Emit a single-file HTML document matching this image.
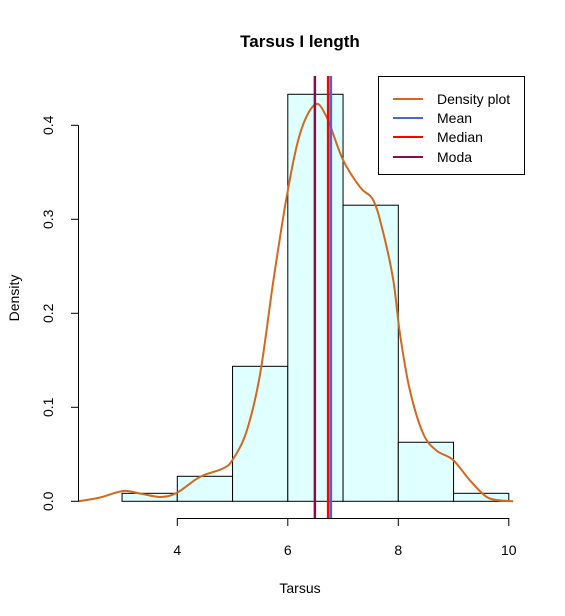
<!DOCTYPE html>
<html><head><meta charset="utf-8"><style>
body{margin:0;background:#fff}
svg{display:block;font-family:"Liberation Sans",Arial,sans-serif}
</style></head><body>
<svg id="c" width="565" height="616" xmlns="http://www.w3.org/2000/svg">
<rect width="565" height="616" fill="#fff"/>
<text x="300" y="47" font-size="17" font-weight="bold" text-anchor="middle">Tarsus I length</text>
<text x="300" y="593" font-size="14" text-anchor="middle">Tarsus</text>
<text transform="translate(19,298) rotate(-90)" font-size="14" text-anchor="middle">Density</text>
<g id="bars"></g><g id="dens"></g><g id="vl"></g><g id="axes"></g>
<g>
<rect x="378.5" y="76.5" width="146" height="98" fill="#fff" stroke="#000"/>
<line x1="393" x2="423" y1="99" y2="99" stroke="#D2691E" stroke-width="2"/>
<text x="437" y="104" font-size="14">Density plot</text>
<line x1="393" x2="423" y1="118" y2="118" stroke="#4169E1" stroke-width="2"/>
<text x="437" y="123" font-size="14">Mean</text>
<line x1="393" x2="423" y1="137" y2="137" stroke="#FF0000" stroke-width="2"/>
<text x="437" y="142" font-size="14">Median</text>
<line x1="393" x2="423" y1="157" y2="157" stroke="#8B0A50" stroke-width="2"/>
<text x="437" y="162" font-size="14">Moda</text>
</g>
</svg>
<script>
const binEdges=[3,4,5,6,7,8,9,10];
const binDensity=[0.0085,0.0266,0.1436,0.433,0.315,0.0628,0.0085];
const densX=[2.2,2.6,3.02,3.35,3.69,3.99,4.41,4.83,5.01,5.26,5.5,5.74,5.98,6.22,6.49,6.7,7.0,7.31,7.55,7.73,7.91,8.03,8.21,8.45,8.69,8.99,9.3,9.6,9.85,10.08];
const densY=[0,0.004,0.011,0.008,0.0046,0.0089,0.026,0.035,0.045,0.0755,0.136,0.235,0.324,0.391,0.422,0.409,0.363,0.334,0.32,0.285,0.235,0.178,0.118,0.072,0.054,0.044,0.022,0.0046,0.001,0];
const statNames=["moda","median","mean"];
const statValues=[6.49,6.73,6.78];
const statColors=["#8B0A50","#FF0000","#4169E1"];
const xTicks=[4,6,8,10];
const yTicks=[0,0.1,0.2,0.3,0.4];
const yTickLabels=["0.0","0.1","0.2","0.3","0.4"];
const NS="http://www.w3.org/2000/svg";
const sx=v=>177.3+(v-4)*55.25;
const sy=v=>501.3-v*940;
function mk(t,a,p){const e=document.createElementNS(NS,t);for(const k in a)e.setAttribute(k,a[k]);p.appendChild(e);return e;}
const bars=document.getElementById('bars');
binDensity.forEach((d,i)=>{const r=mk('rect',{x:sx(binEdges[i]),y:sy(d),width:sx(binEdges[i+1])-sx(binEdges[i]),height:sy(0)-sy(d),fill:'#E0FFFF',stroke:'#000','stroke-width':1},bars);

});
const P=densX.map((x,i)=>[sx(x),sy(densY[i])]);
let dp='M'+P[0][0].toFixed(1)+','+P[0][1].toFixed(1);
for(let i=0;i<P.length-1;i++){const p0=P[Math.max(0,i-1)],p1=P[i],p2=P[i+1],p3=P[Math.min(P.length-1,i+2)];
const c1=[p1[0]+(p2[0]-p0[0])/6,p1[1]+(p2[1]-p0[1])/6],c2=[p2[0]-(p3[0]-p1[0])/6,p2[1]-(p3[1]-p1[1])/6];
dp+=`C${c1[0].toFixed(1)},${c1[1].toFixed(1)} ${c2[0].toFixed(1)},${c2[1].toFixed(1)} ${p2[0].toFixed(1)},${p2[1].toFixed(1)}`;}
const pl=mk('path',{d:dp,fill:'none',stroke:'#D2691E','stroke-width':2,'stroke-linejoin':'round'},document.getElementById('dens'));


const vl=document.getElementById('vl');
statValues.forEach((v,i)=>{const l=mk('line',{x1:sx(v),x2:sx(v),y1:76,y2:518,stroke:statColors[i],'stroke-width':2.5},vl);

});
const ax=document.getElementById('axes');
const xa=mk('line',{x1:sx(xTicks[0]),x2:sx(xTicks[xTicks.length-1]),y1:518.5,y2:518.5,stroke:'#000'},ax);


xTicks.forEach(t=>{mk('line',{x1:sx(t),x2:sx(t),y1:518,y2:526,stroke:'#000'},ax);
const tx=mk('text',{x:sx(t),y:555,'font-size':14,'text-anchor':'middle'},ax);tx.textContent=t;

});
const ya=mk('line',{x1:78.5,x2:78.5,y1:sy(0),y2:sy(0.4),stroke:'#000'},ax);


yTicks.forEach((t,i)=>{mk('line',{x1:71,x2:78.5,y1:sy(t),y2:sy(t),stroke:'#000'},ax);
const tx=mk('text',{transform:`translate(53,${sy(t)}) rotate(-90)`,'font-size':14,'text-anchor':'middle'},ax);tx.textContent=yTickLabels[i];

});
</script>
</body></html>
